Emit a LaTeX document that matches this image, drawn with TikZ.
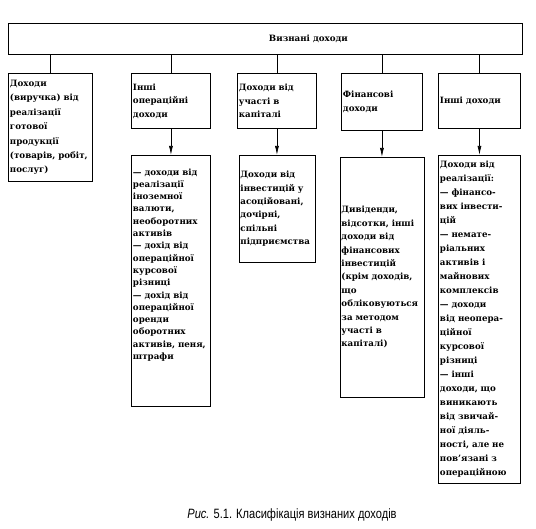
\documentclass[tikz,border=0pt]{standalone}
\usepackage{fontspec}
\setmainfont{DejaVu Serif}
\newfontfamily\capfont[FakeStretch=0.82]{Liberation Sans}
\usetikzlibrary{arrows.meta,positioning}

\begin{document}
\begin{tikzpicture}[x=1pt,y=-1pt,>={Latex[length=9pt,width=4pt]},node distance=26pt,
  box/.style={draw,line width=0.9pt,inner xsep=1.5pt,inner ysep=2pt,align=left,anchor=north west,font=\bfseries\fontsize{8.7}{13.4}\selectfont}]
\useasboundingbox (0,0) rectangle (536,528);
\node[box,align=center,minimum width=514pt,minimum height=31pt] (recog) at (8,23) {\hspace*{86pt}Визнані доходи};
% first row
\node[box,text width=81pt,minimum height=108pt,font=\bfseries\fontsize{8.7}{14.4}\selectfont] (sales) at (8,73) {Доходи\\(виручка) від\\реалізації\\готової\\продукції\\\mbox{(товарів, робіт,}\\послуг)};
\node[box,text width=76pt,minimum height=55pt] (oper) at (131,73) {Інші\\операційні\\доходи};
\node[box,text width=76pt,minimum height=55pt] (equity) at (237,73) {Доходи від\\участі в\\капіталі};
\node[box,text width=78pt,minimum height=57pt] (fin) at (341,73) {Фінансові\\доходи};
\node[box,text width=79pt,minimum height=55pt] (other) at (438,73) {Інші доходи};
% second row
\node[box,below=of oper,text width=76pt,minimum height=251pt,font=\bfseries\fontsize{8.7}{12.3}\selectfont] (oper-list) {--- доходи від\\реалізації\\іноземної\\валюти,\\необоротних\\активів\\--- дохід від\\операційної\\курсової\\різниці\\--- дохід від\\операційної\\оренди\\оборотних\\\mbox{активів, пеня,}\\штрафи\vspace*{32pt}};
\node[box,below=of equity,text width=73pt,minimum height=107pt] (equity-list) {Доходи від\\інвестицій у\\асоційовані,\\дочірні,\\спільні\\підприємства};
\node[box,below=of fin,text width=81pt,minimum height=240pt] (fin-list) {Дивіденди,\\\mbox{відсотки, інші}\\доходи від\\фінансових\\інвестицій\\\mbox{(крім доходів,}\\що\\обліковуються\\за методом\\участі в\\капіталі)};
\node[box,below=of other,text width=79pt,minimum height=328pt,font=\bfseries\fontsize{8.7}{14}\selectfont] (other-list) {Доходи від\\реалізації:\\--- фінансо-\\вих інвести-\\цій\\--- немате-\\ріальних\\активів і\\майнових\\комплексів\\--- доходи\\від неопера-\\ційної\\курсової\\різниці\\--- інші\\доходи, що\\виникають\\від звичай-\\ної діяль-\\\mbox{ності, але не}\\пов'язані з\\операційною};
\node[font=\capfont\fontsize{13.5}{15}\selectfont] (caption) at (292,515) {\textit{Рис.} 5.1. Класифікація визнаних доходів};

\foreach \b in {sales,oper,equity,fin,other}
  \draw[line width=0.7pt] (recog.south -| \b.north) -- (\b.north);
\draw[->,line width=0.7pt] (oper)--(oper-list); \draw[->,line width=0.7pt] (equity)--(equity-list);
\draw[->,line width=0.7pt] (fin)--(fin-list); \draw[->,line width=0.7pt] (other)--(other-list);
\end{tikzpicture}
\end{document}
